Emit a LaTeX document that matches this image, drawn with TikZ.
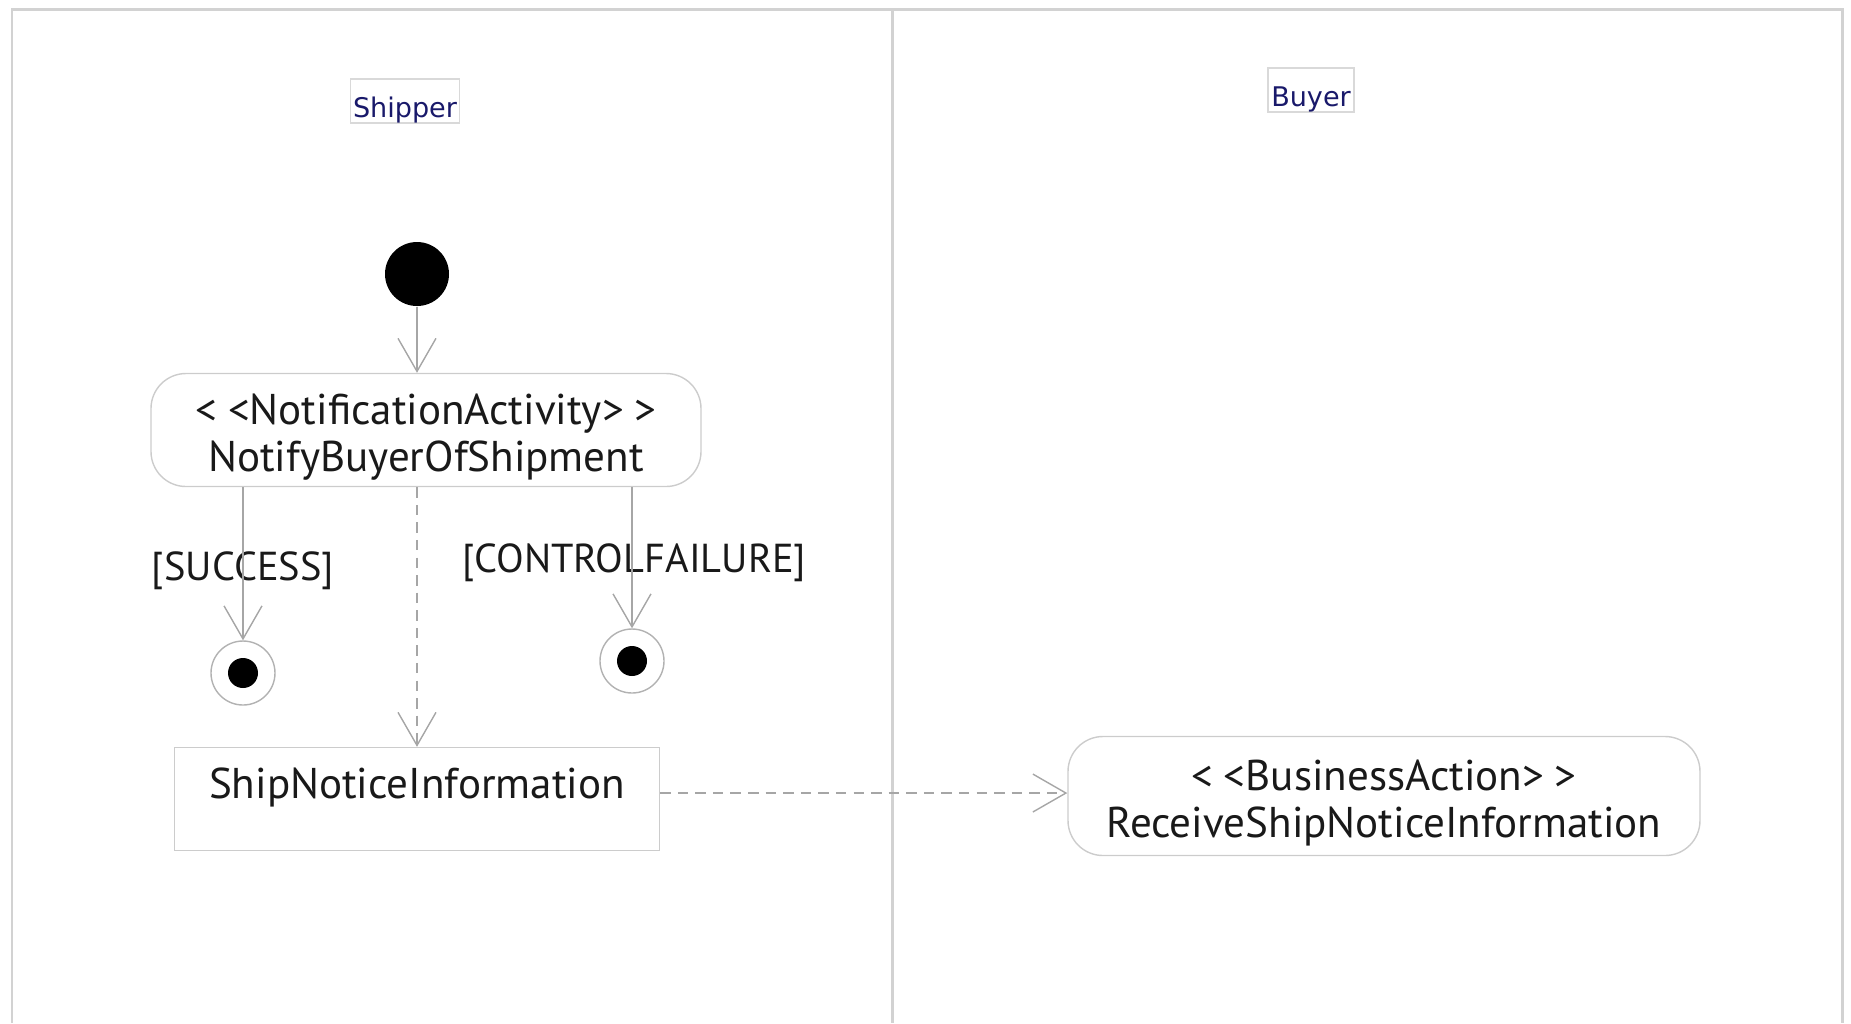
\documentclass[tikz,border=0pt]{standalone}
\usepackage{fontspec}
\setmainfont{PT Sans}
\newfontfamily\lanefont{DejaVu Sans}
\usetikzlibrary{arrows.meta,positioning,calc}
\newcommand\stereo[1]{\rule{0pt}{12.8pt}<\kern3pt<#1>\kern3pt>}
\tikzset{
  act/.style={draw=gray!40,line width=0.4pt,rounded corners=3.5mm,inner ysep=0pt,align=center,text=black!90,font=\fontsize{12.25}{13.4}\selectfont},
  obj/.style={draw=gray!40,line width=0.4pt,inner sep=0pt,text=black!90,font=\fontsize{12.25}{13.4}\selectfont},
  lanelbl/.style={draw=gray!30,line width=0.4pt,inner xsep=0.7pt,inner ysep=1.7pt,text height=9.1pt,text depth=0pt,text=blue!35!black!90,font=\lanefont\fontsize{7.7}{9}\selectfont},
  initial/.style={circle,fill=black,minimum size=6.4mm,inner sep=0pt},
  final/.style={circle,draw=gray!60,minimum size=6.4mm,inner sep=0pt,path picture={\fill (path picture bounding box.center) circle (1.5mm);}},
  guard/.style={inner sep=0pt,text=black!90,font=\fontsize{11.5}{13}\selectfont},
  flow/.style={draw=gray!70,line width=0.4pt,-{Straight Barb[length=9.4pt,width=10.8pt]}},
  dflow/.style={flow,dash pattern=on 3pt off 2pt},
}
\begin{document}
\begin{tikzpicture}[x=0.1mm,y=-0.1mm]
\useasboundingbox (0,0) rectangle (1851,1023);
% swimlanes
\draw[gray!35,line width=0.85pt] (12,1023)--(12,9)--(1842,9)--(1842,1023) (892,9)--(892,1023);
\node[lanelbl,minimum width=10.9mm] (shipper) at (405,101) {Shipper};
\node[lanelbl,minimum width=8.6mm] (buyer) at (1311,90) {Buyer};
% states
\node[initial] (init) at (417,274) {};
\node[act,minimum width=55mm,minimum height=11.3mm] (notify) at (426,430)
  {\stereo{NotificationActivity}\\NotifyBuyerOfShipment};
\node[final] (success) at (243,673) {};
\node[final] (failure) at (632,661) {};
\node[obj,minimum width=48.5mm,text height=5.1mm,text depth=5.2mm] (notice) at (417,799) {ShipNoticeInformation};
\node[act,minimum width=63.2mm,minimum height=11.9mm] (receive) at (1384,796)
  {\stereo{BusinessAction}\\ReceiveShipNoticeInformation};
\node[guard] (succlbl) at (243,571) {[SUCCESS]};
\node[guard] (faillbl) at (634,563) {[CONTROLFAILURE]};
% transitions
\draw[flow] (init) -- (init |- notify.north);
\foreach \s in {success,failure}
\draw[flow] (notify.south -| \s) -- (\s);
\draw[dflow] (notify.south -| notice) -- (notice);
\draw[dflow] ([yshift=1.7pt]notice.east) -- ([yshift=1.7pt]notice.east -| receive.west);
\end{tikzpicture}
\end{document}
